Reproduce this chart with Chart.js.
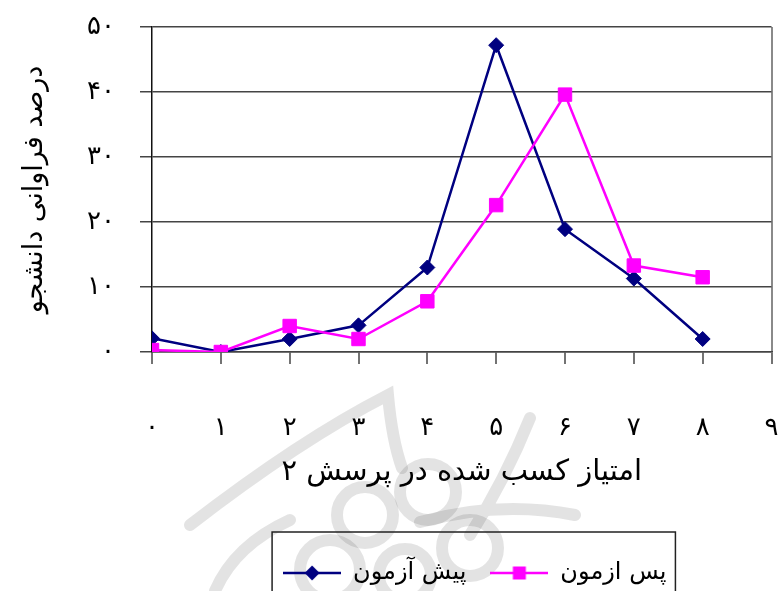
<!DOCTYPE html>
<html lang="fa">
<head>
<meta charset="utf-8">
<title>امتیاز کسب شده در پرسش ۲</title>
<script src="https://cdn.jsdelivr.net/npm/chart.js@4/dist/chart.umd.min.js"></script>
<style>
  html, body { margin: 0; padding: 0; background: #ffffff; }
  canvas { display: block; }
</style>
</head>
<body>
<canvas id="chart" width="782" height="591"></canvas>
<script>
// Score obtained on question 2 (0..8) and percentage of students per score
const scores = [0, 1, 2, 3, 4, 5, 6, 7, 8];
const preTest = [2.1, 0, 2, 4.1, 13, 47.2, 18.9, 11.3, 2];
const postTest = [0.3, 0, 4, 2, 7.8, 22.6, 39.6, 13.3, 11.5];
const seriesNames = ['پیش آزمون', 'پس ازمون'];
const xTickLabels = ['۰', '۱', '۲', '۳', '۴', '۵', '۶', '۷', '۸', '۹'];
const yTickLabels = ['۰', '۱۰', '۲۰', '۳۰', '۴۰', '۵۰'];
const xTitle = 'امتیاز کسب شده در پرسش ۲';
const yTitle = 'درصد فراوانی دانشجو';

const FONT = "'DejaVu Sans', sans-serif";
const NAVY = '#000080';
const MAGENTA = '#ff00ff';

// Small line-and-marker samples used as legend symbols
function legendSample(color, shape) {
  const c = document.createElement('canvas');
  c.width = 58; c.height = 18;
  const g = c.getContext('2d');
  g.strokeStyle = color; g.lineWidth = 2.5;
  g.beginPath(); g.moveTo(0, 9); g.lineTo(58, 9); g.stroke();
  g.fillStyle = color;
  g.beginPath();
  if (shape === 'diamond') {
    g.moveTo(29, 1.5); g.lineTo(36.5, 9); g.lineTo(29, 16.5); g.lineTo(21.5, 9);
  } else {
    g.rect(22.5, 2.5, 13, 13);
  }
  g.closePath(); g.fill();
  return c;
}
const legendIcons = [legendSample(NAVY, 'diamond'), legendSample(MAGENTA, 'square')];

// Light ornamental backdrop behind the lower part of the figure
const ornament = {
  id: 'ornament',
  beforeDraw(chart) {
    const g = chart.ctx;
    g.save();
    g.strokeStyle = 'rgba(0,0,0,0.11)';
    g.lineWidth = 12;
    g.lineCap = 'round';
    g.beginPath();
    g.moveTo(190, 525); g.quadraticCurveTo(300, 440, 388, 395);
    g.quadraticCurveTo(392, 440, 402, 468);
    g.moveTo(530, 418); g.quadraticCurveTo(505, 480, 470, 535);
    g.moveTo(420, 522); g.quadraticCurveTo(500, 500, 575, 515);
    g.moveTo(215, 591); g.quadraticCurveTo(235, 545, 290, 520);
    g.stroke();
    [[365, 515, 28], [428, 492, 28], [470, 548, 28], [330, 570, 30], [405, 575, 26]].forEach(([x, y, r]) => {
      g.beginPath(); g.arc(x, y, r, 0, Math.PI * 2); g.stroke();
    });
    g.restore();
  }
};

// Shift the legend over and frame it
const legendFrame = {
  id: 'legendFrame',
  afterUpdate(chart) {
    const lg = chart.legend;
    const d = 13;
    lg.left += d; lg.right += d;
    lg.legendHitBoxes.forEach(h => { h.left += d; });
  },
  afterDraw(chart) {
    const lg = chart.legend;
    const hb = lg.legendHitBoxes;
    if (!hb.length) return;
    const l = Math.min(...hb.map(h => h.left)) - 11;
    const r = Math.max(...hb.map(h => h.left + h.width)) + 9;
    const g = chart.ctx;
    g.save();
    g.strokeStyle = '#222';
    g.lineWidth = 1.5;
    g.strokeRect(l, lg.top - 5, r - l, 120);
    g.restore();
  }
};

new Chart(document.getElementById('chart'), {
  type: 'line',
  data: {
    datasets: [
      {
        label: seriesNames[0],
        data: scores.map((s, i) => ({ x: s, y: preTest[i] })),
        borderColor: NAVY,
        backgroundColor: NAVY,
        borderWidth: 2.5,
        pointStyle: 'rectRot',
        pointRadius: 7.5,
        pointBackgroundColor: NAVY,
        pointBorderColor: NAVY,
        pointBorderWidth: 1,
        tension: 0,
        order: 2
      },
      {
        label: seriesNames[1],
        data: scores.map((s, i) => ({ x: s, y: postTest[i] })),
        borderColor: MAGENTA,
        backgroundColor: MAGENTA,
        borderWidth: 2.5,
        pointStyle: 'rect',
        pointRadius: 9.5,
        pointBackgroundColor: MAGENTA,
        pointBorderColor: MAGENTA,
        pointBorderWidth: 1,
        tension: 0,
        order: 1
      }
    ]
  },
  options: {
    responsive: false,
    devicePixelRatio: 1,
    animation: false,
    events: [],
    layout: { padding: { top: 27, right: 9, bottom: -4, left: 0 } },
    scales: {
      x: {
        type: 'linear',
        min: 0,
        max: 9,
        ticks: {
          stepSize: 1,
          padding: 49,
          color: '#000',
          font: { family: FONT, size: 26 },
          callback: v => xTickLabels[v]
        },
        grid: {
          drawOnChartArea: true,
          color: c => (c.tick && c.tick.value === 9 ? '#8a8a8a' : 'rgba(0,0,0,0)'),
          lineWidth: 2,
          tickLength: 12,
          tickColor: '#444',
          tickWidth: 1.5
        },
        border: { display: true, color: '#444', width: 1.5 },
        title: {
          display: true,
          text: xTitle,
          color: '#000',
          font: { family: FONT, size: 29 },
          padding: { top: 0, bottom: 47.6 }
        },
        afterFit: s => {
          s.height = 185;
          s.paddingLeft = 0;
          s.paddingRight = 0;
        }
      },
      y: {
        min: 0,
        max: 50,
        ticks: {
          stepSize: 10,
          padding: 25,
          color: '#000',
          font: { family: FONT, size: 26 },
          callback: v => yTickLabels[v / 10]
        },
        grid: {
          color: '#444',
          lineWidth: 1.5,
          tickLength: 12,
          tickColor: '#444',
          tickWidth: 1.5
        },
        border: { display: true, color: '#111', width: 1.5 },
        title: {
          display: true,
          text: yTitle,
          color: '#000',
          font: { family: FONT, size: 27 },
          padding: { top: 19, bottom: 0 }
        },
        afterFit: s => {
          s.width = 152;
          s.paddingTop = 0;
          s.paddingBottom = 0;
        }
      }
    },
    plugins: {
      tooltip: { enabled: false },
      legend: {
        position: 'bottom',
        fullSize: false,
        labels: {
          usePointStyle: true,
          pointStyleWidth: 58,
          padding: 24,
          color: '#000',
          font: { family: FONT, size: 24 },
          generateLabels: chart => chart.data.datasets.map((ds, i) => ({
            text: ds.label,
            pointStyle: legendIcons[i],
            fillStyle: ds.borderColor,
            strokeStyle: ds.borderColor,
            lineWidth: 0,
            hidden: false,
            datasetIndex: i,
            fontColor: '#000'
          }))
        }
      }
    }
  },
  plugins: [ornament, legendFrame]
});
</script>
</body>
</html>
